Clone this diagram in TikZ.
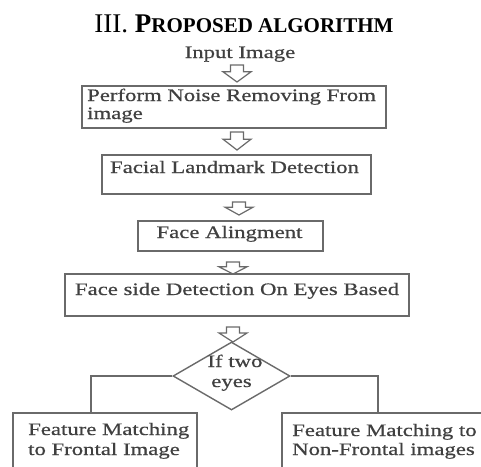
\documentclass[tikz,border=0pt]{standalone}
\usepackage{fontspec}
\setmainfont{Liberation Serif}
\newfontfamily\figfont[FakeStretch=1.3,FakeBold=0.6]{Liberation Serif}
\usetikzlibrary{shapes.geometric}
\definecolor{txtgray}{HTML}{404040}
\definecolor{linegray}{HTML}{6A6A6A}
\newcommand\blockarrow[4]{%
  \pgfmathsetmacro\baH{#3+0.4*(#4-#3)}%
  \coordinate (#1) at (#2,#3);
  \draw[barrow] (#2-6.5,#3) -- (#2-6.5,\baH) -- (#2-14,\baH) -- (#2,#4)
    -- (#2+14,\baH) -- (#2+6.5,\baH) -- (#2+6.5,#3) -- cycle;}
\begin{document}
\begin{tikzpicture}[x=1pt,y=-1pt,
  box/.style={draw=linegray, line width=1.4pt, inner sep=0pt, fill=none},
  lbl/.style={text=txtgray, font=\figfont\fontsize{17.5}{20}\selectfont, inner sep=0pt},
  barrow/.style={draw=linegray, fill=white, line width=1.2pt, line join=miter},
  conn/.style={draw=linegray, line width=1.4pt}]
\useasboundingbox (0,0) rectangle (481,466);
\clip (0,0) rectangle (481,466);
\fill[white] (0,0) rectangle (481,466);

% title
\node[anchor=base, inner sep=0pt, font=\fontsize{27}{30}\selectfont] (title) at (244,32)
  {III. \textbf{P\fontsize{21}{24}\selectfont ROPOSED ALGORITHM}};

% input
\node[lbl, anchor=base] (inp) at (240,58) {Input Image};
\blockarrow{a1}{237}{65}{82}

% box 1
\node[box, minimum width=304pt, minimum height=42pt] (b1) at (234,107) {};
\node[lbl, anchor=base west] (t1a) at (87,101) {Perform Noise Removing From};
\node[lbl, anchor=base west] (t1b) at (87,119) {image};
\blockarrow{a2}{237}{132}{150}

% box 2
\node[box, minimum width=269pt, minimum height=39pt] (b2) at (236.5,174.5) {};
\node[lbl, anchor=base] (t2) at (234.5,173) {Facial Landmark Detection};
\blockarrow{a3}{239}{202}{215}

% box 3
\node[box, minimum width=185pt, minimum height=30pt] (b3) at (230.5,236) {};
\node[lbl, anchor=base] (t3) at (229.5,238) {Face Alingment};
\blockarrow{a4}{233}{262}{274}

% box 4
\node[box, minimum width=344pt, minimum height=42pt] (b4) at (237,295) {};
\node[lbl, anchor=base] (t4) at (237,295) {Face side Detection On Eyes Based};
\blockarrow{a5}{233}{327}{342}

% decision
\node[draw=linegray, line width=1.4pt, diamond, inner sep=0pt,
      minimum width=117pt, minimum height=68pt] (d) at (231.5,376) {};
\node[lbl, anchor=base] (td1) at (235,367) {If two};
\node[lbl, anchor=base] (td2) at (231.5,387) {eyes};

% bottom boxes
\node[box, minimum width=184pt, minimum height=67pt] (lb) at (105,446.5) {};
\node[lbl, anchor=base west] (tl1) at (28,435) {Feature Matching};
\node[lbl, anchor=base west] (tl2) at (28,455) {to Frontal Image};
\node[box, minimum width=218pt, minimum height=67pt] (rb) at (391,446.5) {};
\node[lbl, anchor=base west] (tr1) at (292,436) {Feature Matching to};
\node[lbl, anchor=base west] (tr2) at (292,455) {Non-Frontal images};

\coordinate (lj) at (91,413);
\coordinate (rj) at (378,413);
\draw[conn] (d.west) -| (lj);
\draw[conn] (d.east) -| (rj);
\end{tikzpicture}
\end{document}
